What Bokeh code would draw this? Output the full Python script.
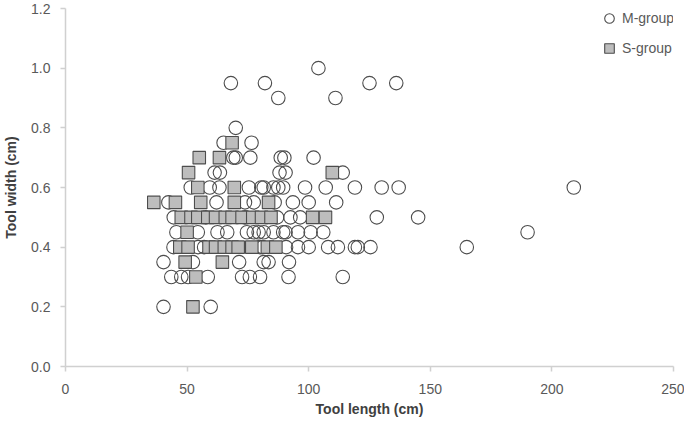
from bokeh.plotting import figure
from bokeh.models import Range1d, FixedTicker, NumeralTickFormatter, Legend, LegendItem, ColumnDataSource
from bokeh.embed import file_html
from bokeh.resources import INLINE

# ---- data ----
x_ticks = [0, 50, 100, 150, 200, 250]
y_ticks = [0.0, 0.2, 0.4, 0.6, 0.8, 1.0, 1.2]

m_length = [
    104,
    68, 82, 125, 136,
    87.5, 111,
    70,
    65, 76.5,
    69, 70, 76, 88.5, 90, 102,
    61.3, 63.5, 88, 90.5, 114,
    51.5, 59.3, 63.3, 75.4, 80.5, 81.5, 85.5, 87.5, 89.5, 98.5, 107, 119, 130, 137, 209,
    42.3, 62.1, 73.8, 77.4, 86, 93.5, 100, 111.3,
    44.5, 57.7, 73.8, 87, 92.5, 96.5, 128, 145,
    45.6, 54.4, 62.5, 66.5, 74.6, 77.4, 79.4, 81.5, 85.5, 89.5, 90.5, 95.6, 100.8, 106, 190,
    44.4, 54.5, 57, 80, 81, 90.7, 95.6, 100, 108, 112, 119, 120.2, 125.4, 165,
    40.3, 52.4, 71.4, 81.5, 83.5, 91.9,
    43.5, 47.6, 50.4, 58.5, 72.6, 75.8, 80, 91.7, 114,
    40.3, 59.7,
]
m_width = [
    1.0,
    0.95, 0.95, 0.95, 0.95,
    0.9, 0.9,
    0.8,
    0.75, 0.75,
    0.7, 0.7, 0.7, 0.7, 0.7, 0.7,
    0.65, 0.65, 0.65, 0.65, 0.65,
    0.6, 0.6, 0.6, 0.6, 0.6, 0.6, 0.6, 0.6, 0.6, 0.6, 0.6, 0.6, 0.6, 0.6, 0.6,
    0.55, 0.55, 0.55, 0.55, 0.55, 0.55, 0.55, 0.55,
    0.5, 0.5, 0.5, 0.5, 0.5, 0.5, 0.5, 0.5,
    0.45, 0.45, 0.45, 0.45, 0.45, 0.45, 0.45, 0.45, 0.45, 0.45, 0.45, 0.45, 0.45, 0.45, 0.45,
    0.4, 0.4, 0.4, 0.4, 0.4, 0.4, 0.4, 0.4, 0.4, 0.4, 0.4, 0.4, 0.4, 0.4,
    0.35, 0.35, 0.35, 0.35, 0.35, 0.35,
    0.3, 0.3, 0.3, 0.3, 0.3, 0.3, 0.3, 0.3, 0.3,
    0.2, 0.2,
]

s_length = [
    68.5,
    55, 63.3,
    50.6, 109.7,
    54.4, 69.4,
    36.3, 45.2, 55.6, 69.4, 83.5,
    47.6, 51.6, 54.4, 58.5, 61.7, 65.7, 68.5, 72.6, 77, 80.6, 84.5, 101.6, 106.9,
    50,
    47, 50.4, 59, 61.7, 65.3, 68.5, 71, 76.6, 83, 86.5,
    49.2, 64.5,
    53.6,
    52.4,
]
s_width = [
    0.75,
    0.7, 0.7,
    0.65, 0.65,
    0.6, 0.6,
    0.55, 0.55, 0.55, 0.55, 0.55,
    0.5, 0.5, 0.5, 0.5, 0.5, 0.5, 0.5, 0.5, 0.5, 0.5, 0.5, 0.5, 0.5,
    0.45,
    0.4, 0.4, 0.4, 0.4, 0.4, 0.4, 0.4, 0.4, 0.4, 0.4,
    0.35, 0.35,
    0.3,
    0.2,
]

FONT = "Liberation Sans"

p = figure(width=684, height=419, output_backend="svg", toolbar_location=None,
           x_range=Range1d(0, 250), y_range=Range1d(0, 1.2),
           min_border_left=65, min_border_right=11, min_border_top=8, min_border_bottom=51)
p.outline_line_color = None
p.grid.visible = False
p.background_fill_color = "white"

m_src = ColumnDataSource(dict(x=m_length, y=m_width))
s_src = ColumnDataSource(dict(x=s_length, y=s_width))

r_m = p.scatter("x", "y", source=m_src, marker="circle", size=13.5,
                fill_color=None, line_color="#4d4d4d", line_width=1.1)
r_s = p.scatter("x", "y", source=s_src, marker="square", size=12.5,
                fill_color="#bdbdbd", line_color="#4d4d4d", line_width=1.1)

for ax in (p.xaxis[0], p.yaxis[0]):
    ax.axis_line_color = "#d0d0d0"
    ax.axis_line_width = 1.5
    ax.major_tick_line_color = "#d0d0d0"
    ax.major_tick_line_width = 1.5
    ax.major_tick_in = 0
    ax.major_tick_out = 5
    ax.minor_tick_line_color = None
    ax.major_label_text_font = FONT
    ax.major_label_text_font_size = "14px"
    ax.major_label_text_color = "#595959"
    ax.axis_label_text_font = FONT
    ax.axis_label_text_font_size = "14px"
    ax.axis_label_text_font_style = "bold"
    ax.axis_label_text_color = "#404040"

p.xaxis.ticker = FixedTicker(ticks=x_ticks)
p.yaxis.ticker = FixedTicker(ticks=y_ticks)
p.yaxis.formatter = NumeralTickFormatter(format="0.0")
p.xaxis.axis_label = "Tool length (cm)"
p.yaxis.axis_label = "Tool width (cm)"
p.xaxis.major_label_standoff = 12
p.xaxis.axis_label_standoff = 4
p.yaxis.major_label_standoff = 10
p.yaxis.axis_label_standoff = 9

legend = Legend(items=[LegendItem(label="M-group", renderers=[r_m]),
                       LegendItem(label="S-group", renderers=[r_s])],
                location=(532, 306), orientation="vertical",
                glyph_width=24, glyph_height=24, label_standoff=1, spacing=6,
                padding=0, margin=0, border_line_color=None, background_fill_alpha=0,
                label_text_font=FONT, label_text_font_size="14px",
                label_text_color="#595959")
p.add_layout(legend, "center")

open("out.html", "w").write(file_html(p, INLINE))
